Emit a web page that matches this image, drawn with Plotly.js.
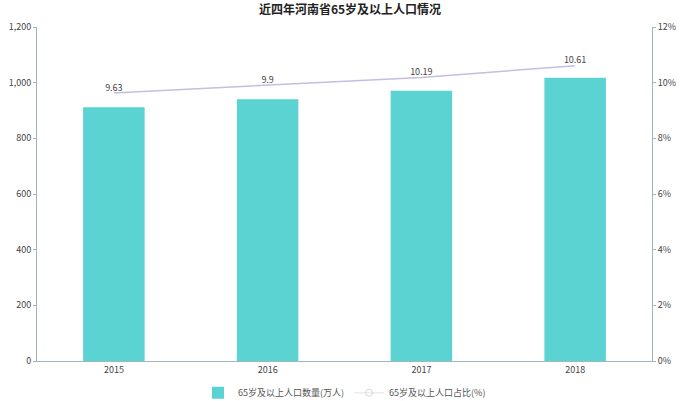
<!DOCTYPE html>
<html>
<head>
<meta charset="utf-8">
<script src="https://cdn.plot.ly/plotly-3.0.1.min.js"></script>
<style>html,body{margin:0;padding:0;background:#fff}#chart{width:700px;height:401px}</style>
</head>
<body>
<div id="chart"></div>
<script>
const years = ['2015', '2016', '2017', '2018'];
const population = [912, 940, 971, 1018];
const ratio = [9.63, 9.9, 10.19, 10.61];
const barName = '65岁及以上人口数量(万人)';
const lineName = '65岁及以上人口占比(%)';
const titleText = '近四年河南省65岁及以上人口情况';

const font = '"Noto Sans CJK SC", "Noto Sans", sans-serif';
const axisColor = '#9fb7bf';

const traces = [
  {
    type: 'bar', x: years, y: population, name: barName,
    marker: {color: '#5cd3d3'}, hoverinfo: 'x+y'
  },
  {
    type: 'scatter', mode: 'lines+text', x: years, y: ratio, name: lineName,
    yaxis: 'y2', text: ratio.map(String), textposition: 'top center',
    textfont: {size: 9, color: '#444'},
    line: {color: '#c5bde3', width: 1.5},
    showlegend: false
  },
  {
    type: 'scatter', mode: 'lines+markers', x: [years[0]], y: [null], name: lineName,
    yaxis: 'y2', line: {color: '#e2e2e2', width: 1},
    marker: {symbol: 'circle-open', size: 7, color: '#d8d8d8', line: {width: 1}}
  }
];

const layout = {
  width: 700, height: 401,
  margin: {l: 37, r: 48, t: 27, b: 40, autoexpand: false},
  font: {family: font, size: 9, color: '#444'},
  title: {text: '<b>' + titleText + '</b>', x: 0.5, xanchor: 'center', y: 0.985, yanchor: 'top', font: {size: 12, color: '#222', family: font}},
  bargap: 0.6,
  showlegend: true,
  legend: {orientation: 'h', x: 0.5, xanchor: 'center', y: -0.052, yanchor: 'top', font: {size: 9, color: '#555'}, itemwidth: 30, tracegroupgap: 0},
  xaxis: {
    type: 'category', showline: true, linecolor: axisColor, linewidth: 1,
    ticks: '', showgrid: false, tickfont: {size: 9, color: '#444'}
  },
  yaxis: {
    range: [0, 1200], dtick: 200, tickformat: ',', showgrid: false, zeroline: false,
    showline: true, linecolor: axisColor, linewidth: 1, ticks: 'outside', ticklen: 3, tickcolor: axisColor,
    tickfont: {size: 9, color: '#444'}
  },
  yaxis2: {
    range: [0, 12], dtick: 2, ticksuffix: '%', overlaying: 'y', side: 'right', showgrid: false, zeroline: false,
    showline: true, linecolor: axisColor, linewidth: 1, ticks: 'outside', ticklen: 3, tickcolor: axisColor,
    tickfont: {size: 9, color: '#444'}
  },
  plot_bgcolor: '#fff', paper_bgcolor: '#fff'
};

Plotly.newPlot('chart', traces, layout, {displayModeBar: false, staticPlot: true});
</script>
</body>
</html>
